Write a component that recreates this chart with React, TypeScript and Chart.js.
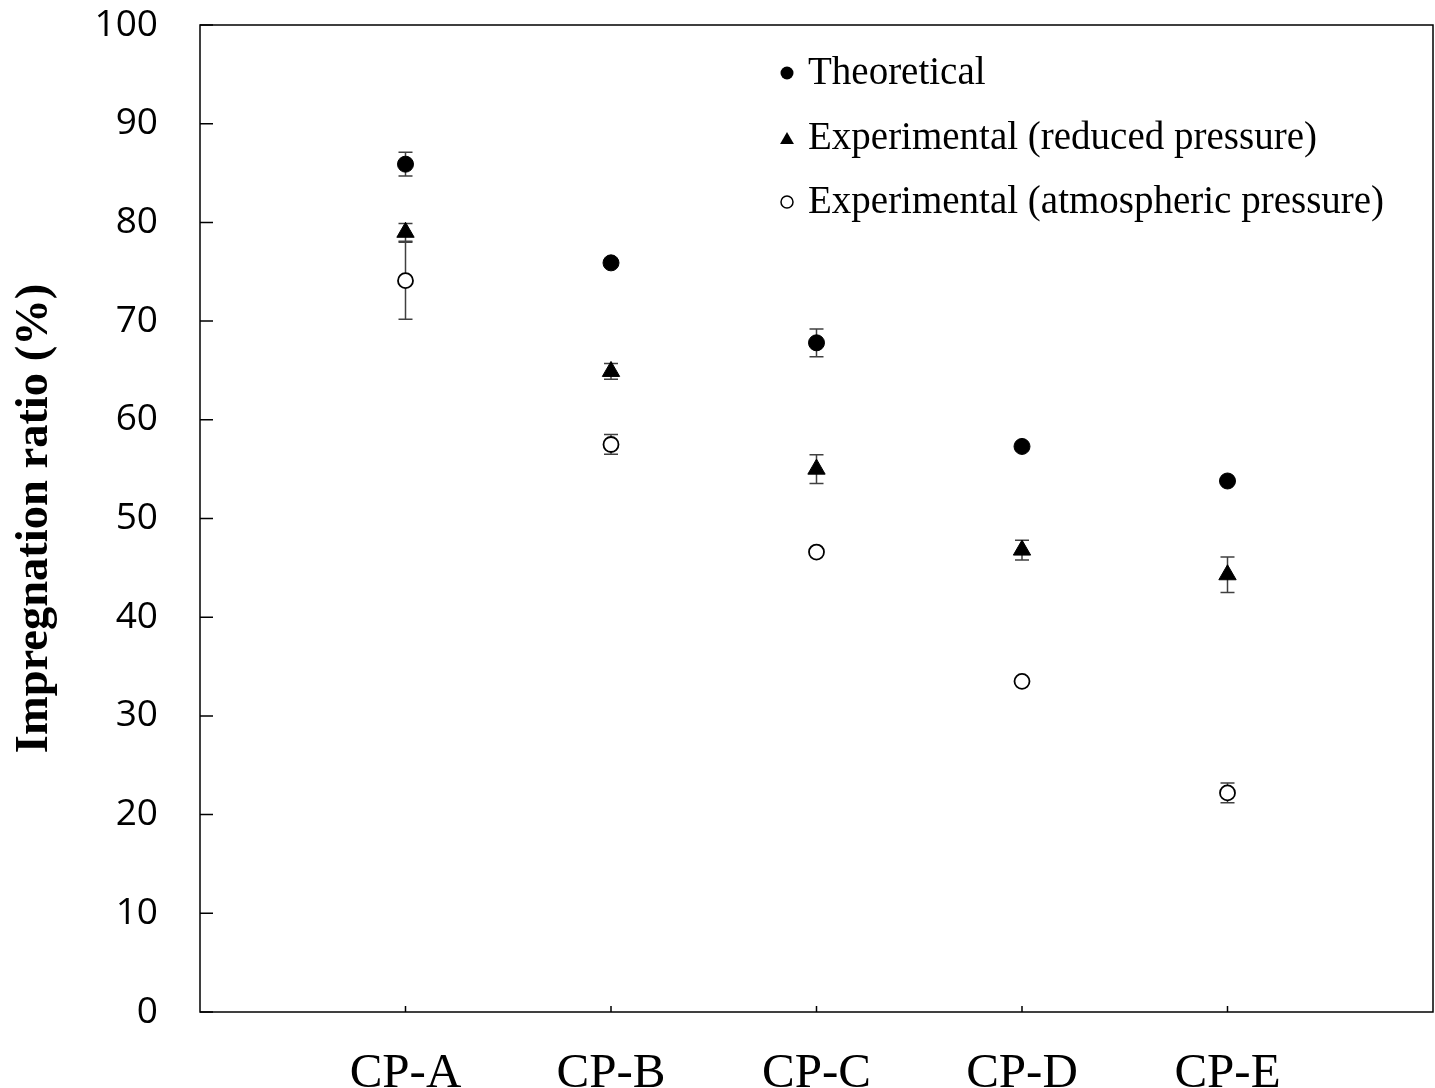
import React, { useEffect, useRef } from "react";
import { Chart, registerables } from "chart.js";

Chart.register(...registerables);

const categories = ["CP-A", "CP-B", "CP-C", "CP-D", "CP-E"];
const categoryPositions = [1, 2, 3, 4, 5];

const theoretical = [85.9, 75.9, 67.8, 57.3, 53.8];
const theoreticalErr = [1.2, 0, 1.4, 0, 0];

const reducedPressure = [79.0, 64.9, 55.0, 46.8, 44.3];
const reducedPressureErr = [0.9, 0.8, 1.45, 1.0, 1.8];

const atmosphericPressure = [74.1, 57.5, 46.6, 33.5, 22.2];
const atmosphericPressureErr = [3.9, 1.0, 0.3, 0.3, 1.0];

const yTickStep = 10;
const yMin = 0;
const yMax = 100;

const legendLabels = [
  "Theoretical",
  "Experimental (reduced pressure)",
  "Experimental (atmospheric pressure)",
];

const yTitle = "Impregnation ratio (%)";

const errorSets = [theoreticalErr, reducedPressureErr, atmosphericPressureErr];

function drawMarker(ctx: CanvasRenderingContext2D, style: string, x: number, y: number, r: number, filled: boolean, lw: number) {
  ctx.save();
  ctx.beginPath();
  if (style === "triangle") {
    const h = r * 1.5;
    const w = r * Math.sqrt(3);
    ctx.moveTo(x, y - r);
    ctx.lineTo(x + w / 2, y - r + h);
    ctx.lineTo(x - w / 2, y - r + h);
    ctx.closePath();
  } else {
    ctx.arc(x, y, r, 0, Math.PI * 2);
  }
  if (filled) {
    ctx.fillStyle = "#000";
    ctx.fill();
  } else {
    ctx.fillStyle = "#fff";
    ctx.fill();
    ctx.lineWidth = lw;
    ctx.strokeStyle = "#000";
    ctx.stroke();
  }
  ctx.restore();
}

const errorBarPlugin = {
  id: "errorBars",
  beforeDatasetsDraw(chart: any) {
    const ctx = chart.ctx as CanvasRenderingContext2D;
    const xs = chart.scales.x;
    const ys = chart.scales.y;
    ctx.save();
    ctx.strokeStyle = "#404040";
    ctx.lineWidth = 1.5;
    chart.data.datasets.forEach((ds: any, di: number) => {
      const errs = errorSets[di];
      ds.data.forEach((pt: any, i: number) => {
        const e = errs[i];
        if (!e) return;
        const px = xs.getPixelForValue(pt.x);
        const top = ys.getPixelForValue(pt.y + e);
        const bot = ys.getPixelForValue(pt.y - e);
        const cw = 7;
        ctx.beginPath();
        ctx.moveTo(px, top);
        ctx.lineTo(px, bot);
        ctx.moveTo(px - cw, top);
        ctx.lineTo(px + cw, top);
        ctx.moveTo(px - cw, bot);
        ctx.lineTo(px + cw, bot);
        ctx.stroke();
      });
    });
    ctx.restore();
  },
};

const framePlugin = {
  id: "frame",
  afterDraw(chart: any) {
    const ctx = chart.ctx as CanvasRenderingContext2D;
    const a = chart.chartArea;
    const xs = chart.scales.x;
    const ys = chart.scales.y;
    ctx.save();
    ctx.strokeStyle = "#000";
    ctx.lineWidth = 1.5;
    ctx.strokeRect(a.left, a.top, a.right - a.left, a.bottom - a.top);
    ctx.beginPath();
    for (let v = yMin; v <= yMax; v += yTickStep) {
      const py = ys.getPixelForValue(v);
      ctx.moveTo(a.left, py);
      ctx.lineTo(a.left + 13, py);
    }
    categoryPositions.forEach((c) => {
      const px = xs.getPixelForValue(c);
      ctx.moveTo(px, a.bottom);
      ctx.lineTo(px, a.bottom - 6);
    });
    ctx.stroke();

    // y-axis title
    ctx.save();
    ctx.translate(35, (a.top + a.bottom) / 2);
    ctx.rotate(-Math.PI / 2);
    ctx.fillStyle = "#000";
    ctx.font = "bold 46.5px 'Liberation Serif'";
    ctx.textAlign = "center";
    ctx.textBaseline = "middle";
    ctx.fillText(yTitle, 0, 0);
    ctx.restore();

    // legend
    const styles = ["circle", "triangle", "circle"];
    const filled = [true, true, false];
    const radii = [6.5, 8, 6];
    const rowY = [74, 139, 203];
    ctx.font = "39px 'Liberation Serif'";
    ctx.fillStyle = "#000";
    ctx.textAlign = "left";
    ctx.textBaseline = "middle";
    legendLabels.forEach((lab, i) => {
      const ty = styles[i] === "triangle" ? rowY[i] + 2 : rowY[i];
      drawMarker(ctx, styles[i], 787, ty - 1, radii[i], filled[i], 1.5);
      ctx.fillStyle = "#000";
      ctx.fillText(lab, 808, rowY[i]);
    });
    ctx.restore();
  },
};

const CANVAS_W = 1444;
const CANVAS_H = 1088;

export default function App() {
  const ref = useRef<HTMLCanvasElement>(null);
  useEffect(() => {
    const canvas = ref.current!;
    const mk = (vals: number[]) => vals.map((v, i) => ({ x: categoryPositions[i], y: v }));
    const chart = new Chart(canvas, {
      type: "scatter",
      data: {
        datasets: [
          {
            label: legendLabels[0],
            data: mk(theoretical),
            pointStyle: "circle",
            pointRadius: 8,
            backgroundColor: "#000",
            borderColor: "#000",
            borderWidth: 1,
          },
          {
            label: legendLabels[1],
            data: mk(reducedPressure),
            pointStyle: "triangle",
            pointRadius: 10,
            backgroundColor: "#000",
            borderColor: "#000",
            borderWidth: 1,
          },
          {
            label: legendLabels[2],
            data: mk(atmosphericPressure),
            pointStyle: "circle",
            pointRadius: 7.5,
            backgroundColor: "#fff",
            borderColor: "#000",
            borderWidth: 1.8,
          },
        ],
      } as any,
      options: {
        responsive: false,
        animation: false,
        layout: { padding: { left: 0, top: 25, right: 3, bottom: 0 } },
        plugins: {
          legend: { display: false },
          tooltip: { enabled: false },
        },
        scales: {
          x: {
            type: "linear",
            min: 0,
            max: 6,
            afterFit: (s: any) => {
              s.height = 76;
              s.paddingLeft = 0;
              s.paddingRight = 0;
            },
            grid: { display: false },
            border: { display: false },
            ticks: {
              stepSize: 1,
              autoSkip: false,
              maxRotation: 0,
              padding: 25,
              color: "#000",
              font: { family: "'Liberation Serif'", size: 49 },
              callback: (v: any) => categories[Number(v) - 1] ?? "",
            },
          },
          y: {
            min: yMin,
            max: yMax,
            afterFit: (s: any) => {
              s.width = 200;
              s.paddingTop = 0;
              s.paddingBottom = 0;
            },
            grid: { display: false },
            border: { display: false },
            ticks: {
              stepSize: yTickStep,
              padding: 34,
              color: "#000",
              font: { family: "'Open Sans'", size: 37 },
            },
          },
        },
      } as any,
      plugins: [errorBarPlugin, framePlugin],
    });
    return () => chart.destroy();
  }, []);
  return (
    <div
      style={{
        position: "absolute",
        left: 0,
        top: 0,
        width: 1435,
        height: 1088,
        overflow: "hidden",
        background: "#fff",
      }}
    >
      <canvas
        ref={ref}
        width={CANVAS_W}
        height={CANVAS_H}
        style={{ width: CANVAS_W, height: CANVAS_H, display: "block" }}
      />
    </div>
  );
}
